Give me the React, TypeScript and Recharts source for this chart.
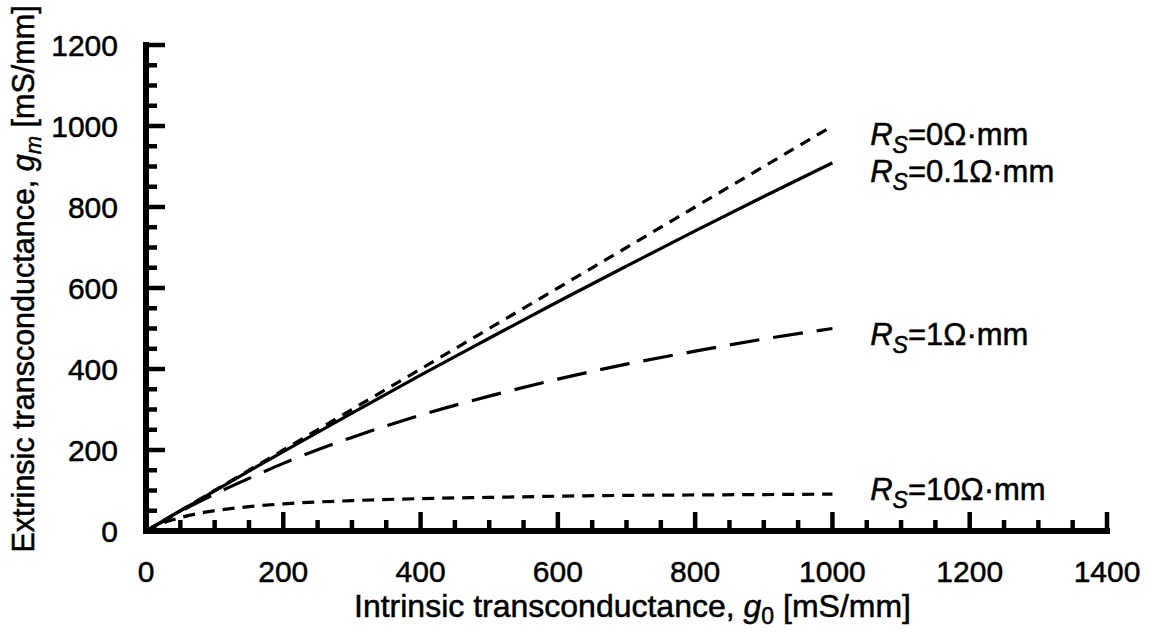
import {
  LineChart,
  Line,
  XAxis,
  YAxis,
  Label,
  ReferenceDot,
} from 'recharts';

// intrinsic transconductance g0 [mS/mm]
const g0Values = [0, 10, 25, 50, 75, 100, 150, 200, 300, 400, 500, 600, 700, 800, 900, 1000];
// extrinsic transconductance gm [mS/mm] for each source resistance
const rs0Values = [0, 10, 25, 50, 75, 100, 150, 200, 300, 400, 500, 600, 700, 800, 900, 1000];
const rs01Values = [0, 10, 25, 50, 74, 99, 148, 196, 291, 385, 476, 566, 654, 741, 826, 909];
const rs1Values = [0, 10, 24, 48, 70, 91, 130, 167, 231, 286, 333, 375, 412, 444, 474, 500];
const rs10Values = [0, 9, 20, 33, 43, 50, 60, 67, 75, 80, 83, 86, 88, 89, 90, 91];

const xTicks = [
  0, 50, 100, 150, 200, 250, 300, 350, 400, 450, 500, 550, 600, 650, 700,
  750, 800, 850, 900, 950, 1000, 1050, 1100, 1150, 1200, 1250, 1300, 1350, 1400,
];
const yTicks = [
  0, 50, 100, 150, 200, 250, 300, 350, 400, 450, 500, 550, 600,
  650, 700, 750, 800, 850, 900, 950, 1000, 1050, 1100, 1150, 1200,
];

// curve annotations, placed in data coordinates
const annotations = [
  { x: 1055, y: 953, value: '0' },
  { x: 1055, y: 862, value: '0.1' },
  { x: 1055, y: 459, value: '1' },
  { x: 1055, y: 77, value: '10' },
];

const data = g0Values.map((g0, i) => ({
  g0,
  rs0: rs0Values[i],
  rs01: rs01Values[i],
  rs1: rs1Values[i],
  rs10: rs10Values[i],
}));

const FONT = '"Liberation Sans", Arial, Helvetica, sans-serif';
const FONT_SIZE = 30;
const MAJOR = 19;
const MINOR = 11;
// scanned print look: slightly heavier glyphs
const ink = { fill: '#000', stroke: '#000', strokeWidth: 0.5 };

const isMajor = (v: number) => v % 200 === 0;

type Side = 'bottom' | 'top' | 'left' | 'right';

function makeTick(side: Side) {
  return function Tick(props: any) {
    const { x, y, payload } = props;
    const v = payload.value as number;
    const len = isMajor(v) ? MAJOR : MINOR;
    let x2 = x;
    let y2 = y;
    if (side === 'bottom') y2 = y - len;
    if (side === 'top') y2 = y + len;
    if (side === 'left') x2 = x + len;
    if (side === 'right') x2 = x - len;
    return (
      <g>
        <line x1={x} y1={y} x2={x2} y2={y2} stroke="#000" strokeWidth={4.5} />
        {side === 'bottom' && isMajor(v) && (
          <text x={x} y={y + 51} textAnchor="middle" fontSize={FONT_SIZE} fontFamily={FONT} {...ink}>
            {v}
          </text>
        )}
        {side === 'left' && isMajor(v) && (
          <text x={x - 28} y={y + 11} textAnchor="end" fontSize={FONT_SIZE} fontFamily={FONT} {...ink}>
            {v}
          </text>
        )}
      </g>
    );
  };
}

function XTitle({ viewBox }: any) {
  const cx = viewBox.x + viewBox.width / 2 + 6;
  const y = viewBox.y + 86;
  return (
    <text x={cx} y={y} textAnchor="middle" fontSize={32} fontFamily={FONT} {...ink}>
      Intrinsic transconductance,{' '}
      <tspan fontStyle="italic">g</tspan>
      <tspan fontSize={23} dy={7}>0</tspan>
      <tspan dy={-7}> [mS/mm]</tspan>
    </text>
  );
}

function YTitle({ viewBox }: any) {
  const cx = viewBox.x + 34;
  const cy = viewBox.y + viewBox.height / 2 - 9;
  return (
    <text
      x={cx}
      y={cy}
      transform={`rotate(-90, ${cx}, ${cy})`}
      textAnchor="middle"
      fontSize={30.5}
      fontFamily={FONT}
      {...ink}
    >
      Extrinsic transconductance,{' '}
      <tspan fontStyle="italic">g</tspan>
      <tspan fontStyle="italic" fontSize={22} dy={7}>m</tspan>
      <tspan dy={-7}> [mS/mm]</tspan>
    </text>
  );
}

function RsLabel({ cx, cy, value }: { cx?: number; cy?: number; value: string }) {
  if (cx == null || cy == null) return null;
  return (
    <text x={cx} y={cy} fontSize={31} fontFamily={FONT} {...ink}>
      <tspan fontStyle="italic">R</tspan>
      <tspan fontStyle="italic" fontSize={23} dy={8}>S</tspan>
      <tspan dy={-8}>={value}Ω·mm</tspan>
    </text>
  );
}

const axisLine = { stroke: '#000', strokeWidth: 6, strokeLinecap: 'square' as const };

export default function App() {
  return (
    <div style={{ position: 'absolute', left: 0, top: 0, width: 1152, height: 634, background: '#fff' }}>
      <LineChart width={1152} height={634} data={data} margin={{ top: 45, right: 45, bottom: 0, left: 0 }}>
        <XAxis
          dataKey="g0"
          type="number"
          domain={[0, 1400]}
          ticks={xTicks}
          interval={0}
          height={103}
          tickSize={0}
          tickMargin={0}
          tickLine={false}
          axisLine={axisLine}
          tick={makeTick('bottom')}
        >
          <Label content={<XTitle />} />
        </XAxis>
        <XAxis
          xAxisId="top"
          orientation="top"
          type="number"
          domain={[0, 1400]}
          ticks={xTicks}
          interval={0}
          height={0}
          tickSize={0}
          tickMargin={0}
          tickLine={false}
          axisLine={axisLine}
          tick={makeTick('top')}
        />
        <YAxis
          type="number"
          domain={[0, 1200]}
          ticks={yTicks}
          interval={0}
          width={146}
          tickSize={0}
          tickMargin={0}
          tickLine={false}
          axisLine={axisLine}
          tick={makeTick('left')}
        >
          <Label content={<YTitle />} />
        </YAxis>
        <YAxis
          yAxisId="right"
          orientation="right"
          type="number"
          domain={[0, 1200]}
          ticks={yTicks}
          interval={0}
          width={0}
          tickSize={0}
          tickMargin={0}
          tickLine={false}
          axisLine={axisLine}
          tick={makeTick('right')}
        />
        <Line dataKey="rs0" type="monotone" stroke="#000" strokeWidth={3.2} strokeDasharray="11 8" dot={false} isAnimationActive={false} />
        <Line dataKey="rs01" type="monotone" stroke="#000" strokeWidth={3.2} dot={false} isAnimationActive={false} />
        <Line dataKey="rs1" type="monotone" stroke="#000" strokeWidth={3.2} strokeDasharray="30 14" dot={false} isAnimationActive={false} />
        <Line dataKey="rs10" type="monotone" stroke="#000" strokeWidth={3.2} strokeDasharray="12 8" dot={false} isAnimationActive={false} />
        {annotations.map(a => (
          <ReferenceDot
            key={a.value}
            x={a.x}
            y={a.y}
            r={0}
            ifOverflow="visible"
            shape={(p: any) => <RsLabel cx={p.cx} cy={p.cy} value={a.value} />}
          />
        ))}
      </LineChart>
    </div>
  );
}
